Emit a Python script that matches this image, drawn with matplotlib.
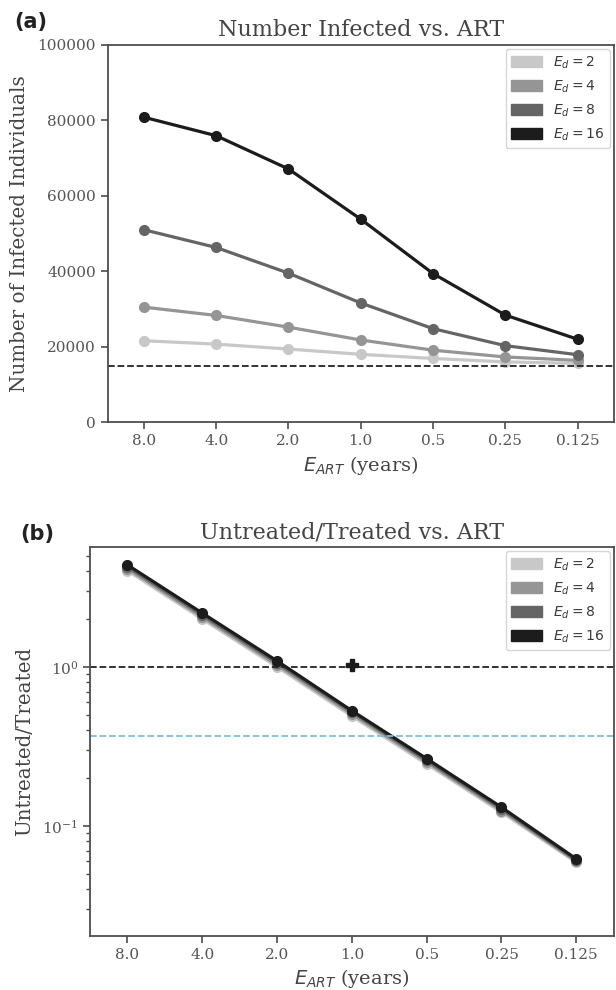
import numpy as np
import matplotlib
matplotlib.use("Agg")
import matplotlib.pyplot as plt
import matplotlib.patches as mpatches
import seaborn as sns

sns.set_style("ticks")
plt.rcParams['font.family'] = ['DejaVu Serif']
plt.rcParams['mathtext.fontset'] = 'dejavusans'

art_labels = ["8.0", "4.0", "2.0", "1.0", "0.5", "0.25", "0.125"]
ed_labels = ["$E_d = 2$", "$E_d = 4$", "$E_d = 8$", "$E_d = 16$"]
colors = ["#c8c8c8", "#959595", "#656565", "#1c1c1c"]

# number infected for each E_d
infected_2 = [21600, 20700, 19400, 18000, 16900, 16000, 15600]
infected_4 = [30500, 28300, 25200, 21800, 19100, 17300, 16400]
infected_8 = [51000, 46300, 39500, 31600, 24800, 20300, 17900]
infected_16 = [80800, 75900, 67100, 53800, 39400, 28400, 22000]
baseline = 15000

# untreated/treated ratio
ratio_2 = [4.03, 2.0, 1.0, 0.49, 0.245, 0.122, 0.059]
ratio_4 = [4.15, 2.06, 1.03, 0.505, 0.252, 0.125, 0.060]
ratio_8 = [4.27, 2.12, 1.06, 0.52, 0.258, 0.128, 0.061]
ratio_16 = [4.38, 2.18, 1.09, 0.53, 0.265, 0.131, 0.062]
cross_x, cross_y = 3, 1.03
cyan_level = 1 / np.e

x = np.arange(len(art_labels))
infected = [infected_2, infected_4, infected_8, infected_16]
ratios = [ratio_2, ratio_4, ratio_8, ratio_16]

W, H = 616, 990
fig = plt.figure(figsize=(W / 100, H / 100), dpi=100)
ax1 = fig.add_axes([107.7/W, 1-422.3/H, (613.7-107.7)/W, (422.3-44.7)/H])
ax2 = fig.add_axes([90/W, 1-935.7/H, (613.7-90)/W, (935.7-546.7)/H])

spine_col = "#4d4d4d"
text_col = "#444444"

for ax in (ax1, ax2):
    for s in ax.spines.values():
        s.set_color(spine_col)
        s.set_linewidth(1.3)
    ax.tick_params(colors=spine_col, labelcolor="#555555", labelsize=11,
                   which="major", length=5, width=1.2)
    ax.tick_params(colors=spine_col, which="minor", length=3, width=1.0)
    ax.set_xticks(x)
    ax.set_xticklabels(art_labels)
    ax.set_xlim(-0.5, 6.5)
    ax.set_xlabel("$E_{ART}$ (years)", fontsize=14, color=text_col)

handles = [mpatches.Patch(color=c, label=l) for c, l in zip(colors, ed_labels)]
leg_kw = dict(loc="upper right", fontsize=10, handlelength=2.2, handleheight=0.8,
              borderaxespad=0.3, labelspacing=0.55, labelcolor="#3a3a3a")

# panel a
for vals, c in zip(infected, colors):
    ax1.plot(x, vals, color=c, lw=2.3, marker="o", ms=7)
ax1.axhline(baseline, color="#222222", ls="--", lw=1.3)
ax1.set_ylim(0, 100000)
ax1.set_yticks(np.arange(0, 100001, 20000))
ax1.set_ylabel("Number of Infected Individuals", fontsize=14.3, color=text_col, labelpad=6)
ax1.set_title("Number Infected vs. ART", fontsize=16, color=text_col)
ax1.legend(handles=handles, **leg_kw)

# panel b
for vals, c in zip(ratios, colors):
    ax2.plot(x, vals, color=c, lw=2.3, marker="o", ms=7)
ax2.axhline(1.0, color="#222222", ls="--", lw=1.3)
ax2.axhline(cyan_level, color="#7fbfd6", ls="--", lw=1.3)
ax2.plot([cross_x], [cross_y], marker="P", color="#1c1c1c", ms=9)
ax2.set_yscale("log")
ax2.set_ylim(0.0204, 5.7)
ax2.set_ylabel("Untreated/Treated", fontsize=14.3, color=text_col, labelpad=6)
ax2.set_title("Untreated/Treated vs. ART", fontsize=16, color=text_col)
ax2.legend(handles=handles, **leg_kw)

fig.text(14/W, 1-22/H, "(a)", fontsize=15, fontweight="bold", family="DejaVu Sans",
         va="center", color="#222222")
fig.text(20/W, 1-534/H, "(b)", fontsize=15, fontweight="bold", family="DejaVu Sans",
         va="center", color="#222222")

fig.savefig("out.png", dpi=100)
